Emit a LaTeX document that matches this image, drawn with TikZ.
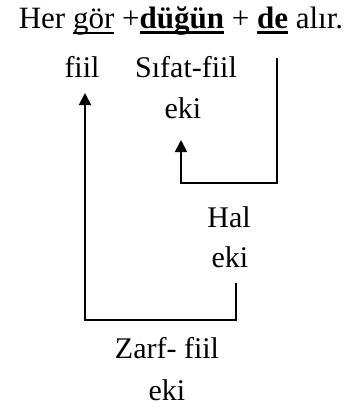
\documentclass[tikz,border=0pt]{standalone}
\usepackage{fontspec}
\setmainfont{Liberation Serif}
\usetikzlibrary{arrows.meta,positioning}

% underline at a fixed depth, as a word processor draws it
\newcommand\ulin[2][1.3pt]{\leavevmode\setbox0\hbox{#2}\rlap{\rule[-5.5pt]{\wd0}{#1}}\box0\relax}

\begin{document}
\begin{tikzpicture}[x=1pt,y=-1pt,
  every node/.style={font=\fontsize{30}{36}\selectfont,inner sep=0pt,anchor=base},
  link/.style={line width=1.7pt},
  arr/.style={link,-{Triangle[length=12pt,width=12pt]}}]
  \useasboundingbox (0,0) rectangle (349,410);
  % sentence
  \node[font=\fontsize{31}{36}\selectfont] (cumle) at (181,28) {Her \ulin{gör} +\ulin[2.2pt]{\textbf{düğün}} + \ulin[2.2pt]{\textbf{de}} alır.};
  % labels
  \node (fiil) at (82,77) {fiil};
  \node (sifat) at (186,77) {Sıfat-fiil};
  \node (sifateki) at (183,118) {eki};
  \node (hal) at (229,227) {Hal};
  \node (haleki) at (230,267) {eki};
  \node (zarf) at (167,358) {Zarf- fiil};
  \node (zarfeki) at (167,400) {eki};
  % connectors
  \coordinate (hu) at (277,58);
  \coordinate (hd) at (277,183);
  \coordinate (ht) at (181,140);
  \coordinate (zu) at (236,283);
  \coordinate (zd) at (236,320);
  \coordinate (zt) at (85,93);
  \draw[arr] (hu) -- (hd) -| (ht);
  \draw[arr] (zu) -- (zd) -| (zt);
\end{tikzpicture}
\end{document}
